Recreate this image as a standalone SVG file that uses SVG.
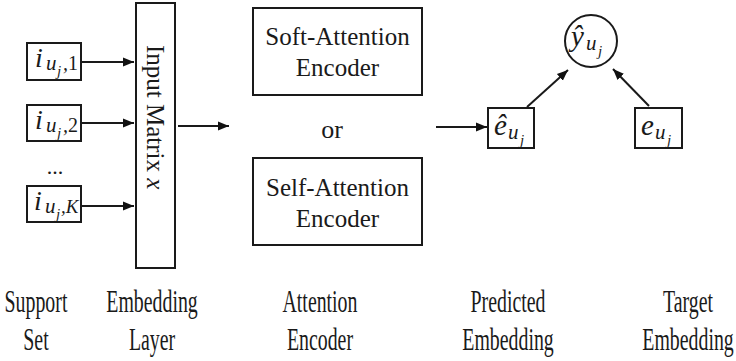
<svg xmlns="http://www.w3.org/2000/svg" width="736" height="361" viewBox="0 0 736 361">
<defs>
<marker id="ah" viewBox="0 0 10 10" refX="10" refY="5" markerWidth="11" markerHeight="11" markerUnits="userSpaceOnUse" orient="auto">
<path d="M0,1 L10,5 L0,9 Z" fill="#111"/>
</marker>
<style>
.box{fill:#fff;stroke:#1a1a1a;stroke-width:2}
.ln{stroke:#1a1a1a;stroke-width:2;fill:none;marker-end:url(#ah)}
.t{font-family:"Liberation Serif","Times New Roman",serif;fill:#1a1a1a}
.m{font-family:"Liberation Serif","Times New Roman",serif;font-style:italic;fill:#1a1a1a}
.lbl{font-size:31px;text-anchor:middle}
</style>
</defs>
<rect width="736" height="361" fill="#fff"/>
<g id="support1">
<rect class="box" x="27" y="43" width="54" height="37"/>
<text class="m" x="35" y="67" font-size="28">i</text>
<text class="m" x="46" y="70" font-size="21">u</text>
<text class="m" x="57" y="76" font-size="15">j</text>
<text class="m" x="63" y="70" font-size="20">,<tspan font-style="normal">1</tspan></text>
</g>
<g id="support2">
<rect class="box" x="27" y="105" width="54" height="36"/>
<text class="m" x="35" y="129" font-size="28">i</text>
<text class="m" x="46" y="132" font-size="21">u</text>
<text class="m" x="57" y="138" font-size="15">j</text>
<text class="m" x="63" y="132" font-size="20">,<tspan font-style="normal">2</tspan></text>
</g>
<g id="dots"><text class="t" x="55" y="174" font-size="22" text-anchor="middle">...</text></g>
<g id="supportK">
<rect class="box" x="27" y="186" width="54" height="36"/>
<text class="m" x="34" y="210" font-size="28">i</text>
<text class="m" x="45" y="213" font-size="21">u</text>
<text class="m" x="56" y="219" font-size="15">j</text>
<text class="m" x="61" y="213" font-size="19">,K</text>
</g>
<g id="embedding">
<rect class="box" x="136" y="3" width="39" height="265"/>
<text class="t" font-size="25" transform="translate(147,45) rotate(90)">Input Matrix <tspan class="m">x</tspan></text>
</g>
<g id="soft">
<rect class="box" x="253" y="8" width="169" height="87"/>
<text class="t" x="337.5" y="45" font-size="25" text-anchor="middle">Soft-Attention</text>
<text class="t" x="337.5" y="76" font-size="25" text-anchor="middle">Encoder</text>
</g>
<g id="or"><text class="t" x="332" y="138" font-size="26" text-anchor="middle">or</text></g>
<g id="self">
<rect class="box" x="253" y="158" width="169" height="87"/>
<text class="t" x="337.5" y="196" font-size="25" text-anchor="middle">Self-Attention</text>
<text class="t" x="337.5" y="227" font-size="25" text-anchor="middle">Encoder</text>
</g>
<g id="pred">
<rect class="box" x="488" y="108" width="46" height="40"/>
<text class="m" x="494" y="135" font-size="29">ê</text>
<text class="m" x="508" y="139" font-size="21">u</text>
<text class="m" x="520" y="145" font-size="15">j</text>
</g>
<g id="target">
<rect class="box" x="635" y="108" width="47" height="40"/>
<text class="m" x="641" y="135" font-size="29">e</text>
<text class="m" x="655" y="139" font-size="21">u</text>
<text class="m" x="667" y="145" font-size="15">j</text>
</g>
<g id="yhat">
<circle class="box" cx="591" cy="41" r="26"/>
<text class="m" x="571" y="46" font-size="29">ŷ</text>
<text class="m" x="586" y="50" font-size="21">u</text>
<text class="m" x="598" y="56" font-size="15">j</text>
</g>
<g id="connectors">
<line class="ln" x1="82" y1="62" x2="134" y2="62"/>
<line class="ln" x1="82" y1="123" x2="134" y2="123"/>
<line class="ln" x1="82" y1="206" x2="134" y2="206"/>
<line class="ln" x1="178" y1="126" x2="229" y2="126"/>
<line class="ln" x1="436" y1="127" x2="487" y2="127"/>
<line class="ln" x1="527" y1="107" x2="568" y2="70"/>
<line class="ln" x1="649" y1="106" x2="613" y2="69"/>
</g>
<g id="labels">
<text class="t lbl" transform="translate(36,312) scale(0.64,1)">Support</text>
<text class="t lbl" transform="translate(36,350) scale(0.64,1)">Set</text>
<text class="t lbl" transform="translate(152,312) scale(0.64,1)">Embedding</text>
<text class="t lbl" transform="translate(152,350) scale(0.64,1)">Layer</text>
<text class="t lbl" transform="translate(320,312) scale(0.64,1)">Attention</text>
<text class="t lbl" transform="translate(320,350) scale(0.64,1)">Encoder</text>
<text class="t lbl" transform="translate(508,312) scale(0.64,1)">Predicted</text>
<text class="t lbl" transform="translate(508,350) scale(0.64,1)">Embedding</text>
<text class="t lbl" transform="translate(688,312) scale(0.64,1)">Target</text>
<text class="t lbl" transform="translate(688,350) scale(0.64,1)">Embedding</text>
</g>
</svg>
